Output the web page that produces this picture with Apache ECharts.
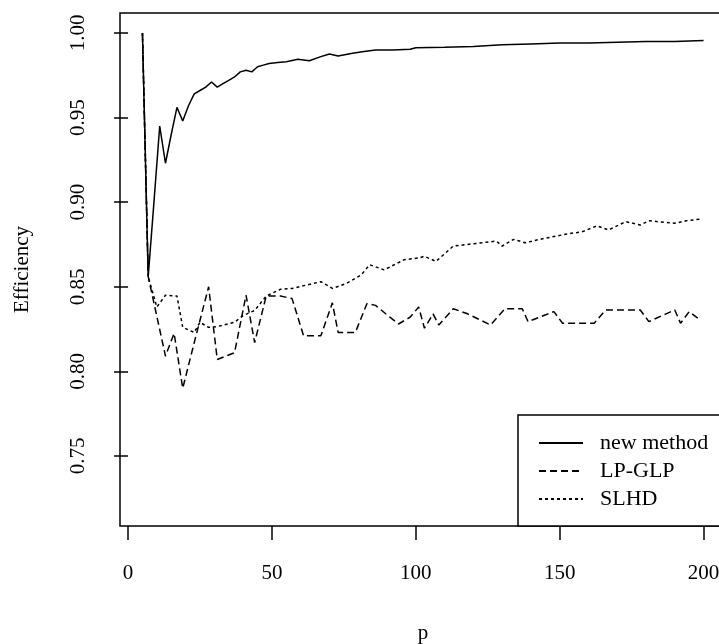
<!DOCTYPE html>
<html>
<head>
<meta charset="utf-8">
<script src="https://cdn.jsdelivr.net/npm/echarts@6/dist/echarts.min.js"></script>
<style>
html,body{margin:0;padding:0;background:#fff;}
#chart{width:719px;height:644px;}
</style>
</head>
<body>
<div id="chart"></div>
<script>
// ---- data ----
const xTicks = [0, 50, 100, 150, 200];
const yTicks = [0.75, 0.80, 0.85, 0.90, 0.95, 1.00];
const seriesNames = ['new method', 'LP-GLP', 'SLHD'];

const newP = [5,7,9,11,13,15,17,19,21,23,25,27,29,31,33,35,37,39,41,43,45,47,49,52,55,59,63,67,70,73,78,82,86,92,98,100,110,120,130,140,150,160,170,180,190,200];
const newEff = [1.000,0.856,0.900,0.945,0.923,0.940,0.956,0.948,0.957,0.964,0.966,0.968,0.971,0.968,0.970,0.972,0.974,0.977,0.978,0.977,0.980,0.981,0.982,0.9825,0.983,0.9845,0.9836,0.986,0.9876,0.9864,0.988,0.989,0.990,0.990,0.9904,0.9913,0.9915,0.992,0.993,0.9935,0.994,0.994,0.9945,0.995,0.995,0.9955];

const lpP = [5,7,13,16,19,23,28,31,37,41,44,48,53,57,61,67,71,73,79,83,86,91,94,98,101,103,106,108,113,118,126,131,137,139,148,151,162,166,178,181,187,190,192,195,198];
const lpEff = [1.0,0.856,0.809,0.8225,0.790,0.817,0.850,0.807,0.811,0.845,0.817,0.8445,0.8445,0.843,0.821,0.821,0.8405,0.823,0.823,0.840,0.839,0.832,0.828,0.832,0.838,0.8255,0.834,0.8274,0.837,0.834,0.8274,0.837,0.837,0.8294,0.8353,0.8284,0.8284,0.8363,0.8363,0.8294,0.834,0.8363,0.8284,0.8353,0.8314];

const slP = [5,7,10,13,17,19,23,25,28,31,37,40,44,48,53,57,62,67,71,76,81,84,89,96,101,103,107,113,118,128,130,134,138,143,152,158,163,167,173,178,181,190,194,199];
const slEff = [1.0,0.856,0.838,0.845,0.8445,0.826,0.823,0.829,0.826,0.8265,0.829,0.833,0.836,0.8445,0.8485,0.849,0.851,0.853,0.849,0.852,0.857,0.863,0.860,0.866,0.867,0.868,0.865,0.874,0.875,0.877,0.874,0.878,0.876,0.878,0.881,0.8826,0.886,0.8836,0.8885,0.8865,0.889,0.8875,0.889,0.890];

// ---- chart ----
const zip = (xs, ys) => xs.map((x, i) => [x, ys[i]]);
const FONT = 'Liberation Serif';
const chart = echarts.init(document.getElementById('chart'), null, {renderer: 'canvas'});

function lineSeries(name, xs, ys, type) {
  return {
    name: name, type: 'line', data: zip(xs, ys),
    symbol: 'none', showSymbol: false, smooth: false,
    lineStyle: {color: '#000', width: 1.5, type: type},
    itemStyle: {color: '#000'},
    emphasis: {disabled: true},
    z: 3
  };
}

chart.setOption({
  animation: false,
  backgroundColor: '#fff',
  textStyle: {fontFamily: FONT, color: '#000'},
  grid: {left: 120, top: 13, width: 606, height: 513, show: true,
         outerBoundsMode: 'none', containLabel: false,
         borderColor: '#000', borderWidth: 1.5, backgroundColor: 'transparent'},
  xAxis: {
    type: 'value', min: -2.8, max: 207.8,
    name: 'p', nameLocation: 'middle', nameGap: 97,
    nameTextStyle: {fontFamily: FONT, fontSize: 21, color: '#000'},
    axisLine: {show: false},
    splitLine: {show: false},
    axisTick: {show: true, inside: false, length: 14, customValues: xTicks,
               lineStyle: {color: '#000', width: 1.5}},
    axisLabel: {show: true, customValues: xTicks, margin: 37,
                fontFamily: FONT, fontSize: 21, color: '#000'}
  },
  yAxis: {
    type: 'value', min: 0.7086, max: 1.0118,
    name: 'Efficiency', nameLocation: 'middle', nameGap: 87, nameRotate: 90,
    nameTextStyle: {fontFamily: FONT, fontSize: 21, color: '#000'},
    axisLine: {show: false},
    splitLine: {show: false},
    axisTick: {show: true, inside: false, length: 14, customValues: yTicks,
               lineStyle: {color: '#000', width: 1.5}},
    axisLabel: {show: true, customValues: yTicks, margin: 31, rotate: 90,
                fontFamily: FONT, fontSize: 21, color: '#000',
                formatter: v => v.toFixed(2)}
  },
  legend: {
    show: true, orient: 'vertical', left: 518, top: 415,
    data: seriesNames,
    itemWidth: 44, itemHeight: 14, itemGap: 6,
    padding: [17, 14, 16, 20],
    borderColor: '#000', borderWidth: 1.5, backgroundColor: '#fff',
    itemStyle: {opacity: 0},
    textStyle: {fontFamily: FONT, fontSize: 22, color: '#000', padding: [0, 0, 0, 12]},
    selectedMode: false
  },
  series: [
    lineSeries(seriesNames[0], newP, newEff, 'solid'),
    lineSeries(seriesNames[1], lpP, lpEff, [7, 4]),
    lineSeries(seriesNames[2], slP, slEff, [3, 3])
  ]
});
</script>
</body>
</html>
